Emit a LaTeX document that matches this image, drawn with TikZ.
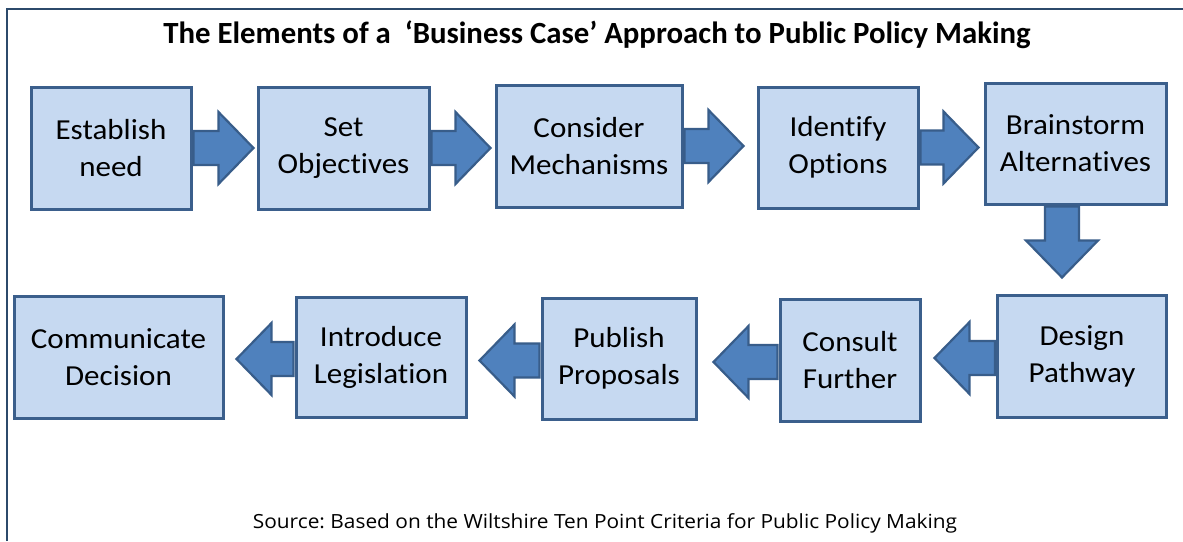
\documentclass[tikz,border=0pt]{standalone}
\usepackage{fontspec}
\setmainfont[Ligatures=NoCommon]{Carlito}
\newfontfamily\boxfont[FakeStretch=1.07,Ligatures=NoCommon]{Carlito}
\newfontfamily\srcfont[FakeStretch=1.07]{Open Sans}
\usetikzlibrary{calc}
\definecolor{boxfill}{HTML}{C6D9F1}
\definecolor{boxline}{HTML}{3B5F8C}
\definecolor{arrfill}{HTML}{4F81BD}
\definecolor{arrline}{HTML}{385D8A}
\definecolor{frameline}{HTML}{2C4A6B}
\newcommand{\rarr}[3]{%
\draw[bigarrow] let \p1=(#1.east), \p2=(#2.west) in
 (\x1+1pt,\y1+17pt) -- (\x2-#3pt-35pt,\y1+17pt) -- (\x2-#3pt-35pt,\y1+36pt) -- (\x2-#3pt,\y1)
 -- (\x2-#3pt-35pt,\y1-36pt) -- (\x2-#3pt-35pt,\y1-17pt) -- (\x1+1pt,\y1-17pt) -- cycle;}
\newcommand{\larr}[3]{%
\draw[bigarrow] let \p1=($(#1.west)+(0,2)$), \p2=(#2.east) in
 (\x1-1pt,\y1+17pt) -- (\x2+#3pt+35pt,\y1+17pt) -- (\x2+#3pt+35pt,\y1+36pt) -- (\x2+#3pt,\y1)
 -- (\x2+#3pt+35pt,\y1-36pt) -- (\x2+#3pt+35pt,\y1-17pt) -- (\x1-1pt,\y1-17pt) -- cycle;}
\begin{document}
\frenchspacing
\begin{tikzpicture}[x=1pt,y=-1pt,
  stepbox/.style={draw=boxline, line width=3pt, fill=boxfill, rectangle, align=center,
    font=\boxfont\fontsize{29}{37}\selectfont, inner sep=0pt},
  bigarrow/.style={fill=arrfill, draw=arrline, line width=2.2pt, line join=miter},
  titletext/.style={font=\fontsize{30.8}{34}\bfseries\selectfont, inner sep=0pt},
  sourcetext/.style={font=\srcfont\fontsize{19.5}{23}\selectfont, inner sep=0pt}]
\useasboundingbox (0,0) rectangle (1183,541);
\fill[white] (0,0) rectangle (1183,541);
% frame
\coordinate (ftl) at (7,9);
\coordinate (fbl) at (7,541);
\coordinate (ftr) at (1183,9);
\draw[frameline, line width=2pt] (fbl) -- (ftl) -- (ftr);
% title and source
\node[titletext] (title) at (597,35) {The Elements of a\ \ ‘Business Case’ Approach to Public Policy Making};
\node[sourcetext] (source) at (605,523) {Source: Based on the Wiltshire Ten Point Criteria for Public Policy Making};
% row 1
\node[stepbox, minimum width=160, minimum height=122] (en) at (111,148) {Establish\\need};
\node[stepbox, minimum width=171, minimum height=122] (so) at (343.5,148) {Set\\Objectives};
\node[stepbox, minimum width=186, minimum height=122] (cm) at (589,146) {Consider\\Mechanisms};
\node[stepbox, minimum width=160, minimum height=121] (io) at (838,147.5) {Identify\\Options};
\node[stepbox, minimum width=181, minimum height=121] (ba) at (1075.5,143.5) {Brainstorm\\Alternatives};
% row 2
\node[stepbox, minimum width=209, minimum height=122] (cd) at (118.5,357) {Communicate\\Decision};
\node[stepbox, minimum width=170, minimum height=120] (il) at (381,357) {Introduce\\Legislation};
\node[stepbox, minimum width=154, minimum height=121] (pp) at (619,358.5) {Publish\\Proposals};
\node[stepbox, minimum width=140, minimum height=122] (cf) at (850,360) {Consult\\Further};
\node[stepbox, minimum width=169, minimum height=122] (dp) at (1082,356) {Design\\Pathway};
% arrows row 1
\rarr{en}{so}{3}
\rarr{so}{cm}{4}
\rarr{cm}{io}{13}
\rarr{io}{ba}{5}
% down arrow
\draw[bigarrow] let \p1=($(ba.south)+(-13.5,0)$), \p2=(dp.north) in
 (\x1-17pt,\y1-1pt) -- (\x1-17pt,\y2+53pt) -- (\x1-36pt,\y2+53pt) -- (\x1,\y2+16pt)
 -- (\x1+36pt,\y2+53pt) -- (\x1+17pt,\y2+53pt) -- (\x1+17pt,\y1-1pt) -- cycle;
% arrows row 2
\larr{dp}{cf}{13}
\larr{cf}{pp}{16}
\larr{pp}{il}{12}
\larr{il}{cd}{12}
\end{tikzpicture}
\end{document}
